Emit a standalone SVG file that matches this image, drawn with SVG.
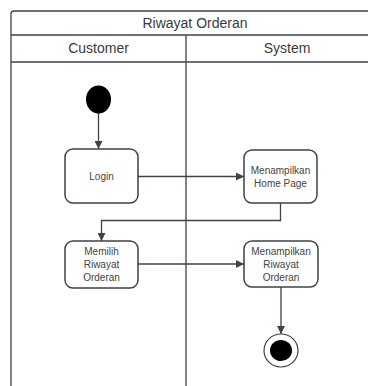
<svg xmlns="http://www.w3.org/2000/svg" width="368" height="386" viewBox="0 0 368 386">
  <style>
    .frame { fill: #ffffff; stroke: #3d434b; stroke-width: 1.3; }
    .line { fill: none; stroke: #3d434b; stroke-width: 1.3; }
    .node { fill: #ffffff; stroke: #3d434b; stroke-width: 1.5; }
    .hdr { font-family: "Liberation Sans", Arial, sans-serif; font-size: 14px; fill: #3a3a3a; text-anchor: middle; }
    .lbl { font-family: "Liberation Sans", Arial, sans-serif; font-size: 10px; fill: #444444; text-anchor: middle; }
    .conn { fill: none; stroke: #3d434b; stroke-width: 1.3; marker-end: url(#arrow); }
  </style>
  <defs>
    <marker id="arrow" viewBox="0 0 10 10" refX="10" refY="5" markerWidth="8" markerHeight="8" markerUnits="userSpaceOnUse" orient="auto">
      <path d="M0,0 L10,5 L0,10 z" fill="#3d434b"/>
    </marker>
  </defs>

  <rect width="368" height="386" fill="#ffffff"/>

  <!-- pool with title row and two swimlanes -->
  <g id="pool">
    <rect class="frame" x="11" y="11" width="380" height="400" rx="3"/>
    <line class="line" x1="11" y1="35" x2="391" y2="35"/>
    <line class="line" x1="11" y1="62" x2="391" y2="62"/>
    <line class="line" x1="186" y1="35" x2="186" y2="400"/>
    <text class="hdr" x="195" y="28">Riwayat Orderan</text>
    <text class="hdr" x="98.5" y="53">Customer</text>
    <text class="hdr" x="287" y="53">System</text>
  </g>

  <!-- connectors -->
  <g id="connectors">
    <line class="conn" x1="98.5" y1="113" x2="98.5" y2="149"/>
    <line class="conn" x1="138" y1="176.5" x2="244" y2="176.5"/>
    <path class="conn" d="M280.5,203 V220.5 H101.5 V241"/>
    <line class="conn" x1="138" y1="264" x2="244" y2="264"/>
    <line class="conn" x1="281" y1="287" x2="281" y2="334"/>
  </g>

  <g id="start">
    <ellipse cx="98.5" cy="99.5" rx="12.5" ry="14" fill="#000000"/>
  </g>

  <g id="login">
    <rect class="node" x="65" y="149" width="73" height="54" rx="8"/>
    <text class="lbl" x="101.5" y="180">Login</text>
  </g>

  <g id="home-page">
    <rect class="node" x="244" y="150" width="73" height="53" rx="8"/>
    <text class="lbl" x="280.5" y="174">Menampilkan</text>
    <text class="lbl" x="280.5" y="187">Home Page</text>
  </g>

  <g id="pilih-riwayat">
    <rect class="node" x="65" y="241" width="73" height="47" rx="8"/>
    <text class="lbl" x="101.5" y="254.5">Memilih</text>
    <text class="lbl" x="101.5" y="267.5">Riwayat</text>
    <text class="lbl" x="101.5" y="280.5">Orderan</text>
  </g>

  <g id="tampil-riwayat">
    <rect class="node" x="244" y="241" width="74" height="46" rx="8"/>
    <text class="lbl" x="281" y="254.5">Menampilkan</text>
    <text class="lbl" x="281" y="267.5">Riwayat</text>
    <text class="lbl" x="281" y="280.5">Orderan</text>
  </g>

  <g id="end">
    <ellipse cx="281" cy="350.5" rx="17" ry="16.5" fill="#ffffff" stroke="#3d434b" stroke-width="1.2"/>
    <ellipse cx="281" cy="350.5" rx="11" ry="10.5" fill="#000000"/>
  </g>
</svg>
